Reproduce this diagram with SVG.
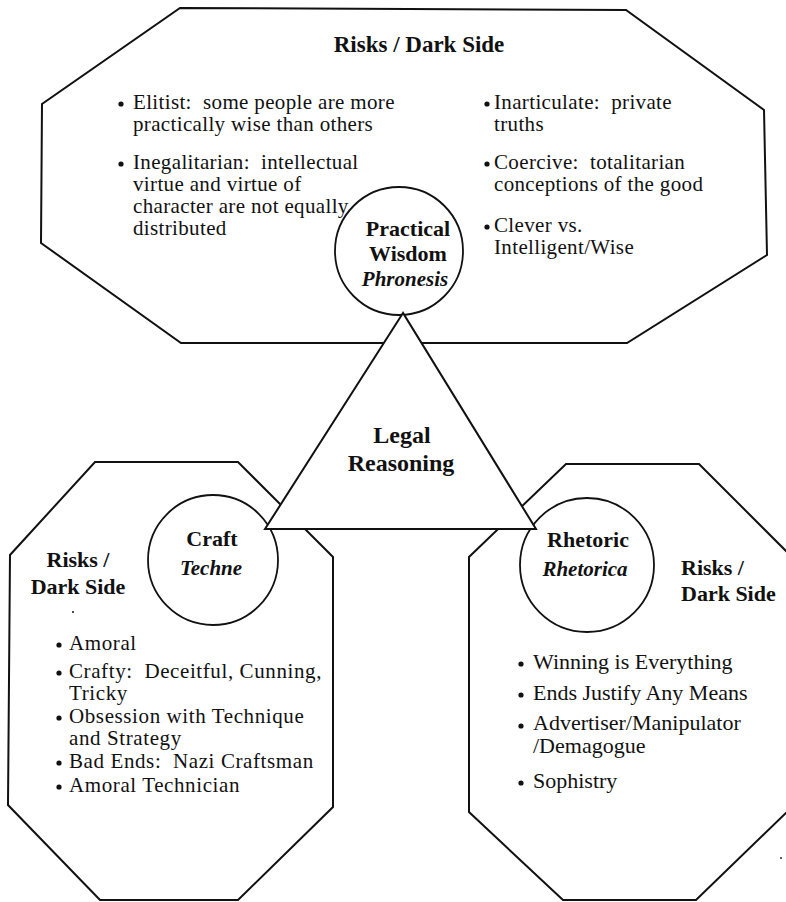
<svg xmlns="http://www.w3.org/2000/svg" width="786" height="902" viewBox="0 0 786 902">
  <style>
    .shape { fill: #fff; stroke: #111; stroke-width: 2; stroke-linejoin: miter; }
    .ring { fill: #fff; stroke: #111; stroke-width: 1.8; }
    .t { font-family: "Liberation Serif", "Times New Roman", serif; fill: #111; }
    .b { font-weight: bold; font-size: 22px; }
    .bi { font-weight: bold; font-style: italic; font-size: 21px; }
    .r { font-size: 22px; }
    .s { font-size: 21px; letter-spacing: 0.6px; }
    .w { font-size: 21px; letter-spacing: 0.35px; }
    .mid { text-anchor: middle; }
    .dot { fill: #111; }
  </style>
  <rect width="786" height="902" fill="#fff"/>

  <!-- Practical wisdom: risks octagon -->
  <g id="phronesis-risks">
    <polygon class="shape" points="180,8 626,10 764,110 767,255 627,343 181,343 41,243 42,104"/>
    <text class="t b mid" x="419" y="52" style="font-size:23px">Risks / Dark Side</text>
    <g class="t w">
      <circle class="dot" cx="121" cy="104" r="2.6"/>
      <text x="133" y="109">Elitist: &#160;some people are more</text>
      <text x="133" y="131">practically wise than others</text>
      <circle class="dot" cx="121" cy="164" r="2.6"/>
      <text x="133" y="169">Inegalitarian: &#160;intellectual</text>
      <text x="133" y="191">virtue and virtue of</text>
      <text x="133" y="213">character are not equally</text>
      <text x="133" y="235">distributed</text>
      <circle class="dot" cx="487" cy="104" r="2.6"/>
      <text x="494" y="109">Inarticulate: &#160;private</text>
      <text x="494" y="131">truths</text>
      <circle class="dot" cx="487" cy="164" r="2.6"/>
      <text x="494" y="169">Coercive: &#160;totalitarian</text>
      <text x="494" y="191">conceptions of the good</text>
      <circle class="dot" cx="487" cy="227" r="2.6"/>
      <text x="494" y="232">Clever vs.</text>
      <text x="494" y="254">Intelligent/Wise</text>
    </g>
  </g>

  <!-- Craft: risks octagon -->
  <g id="techne-risks">
    <polygon class="shape" points="95,462 238,462 333,557 333,807 238,900 100,900 8,805 10,555"/>
    <text class="t b mid" x="78" y="567">Risks /</text>
    <text class="t b mid" x="78" y="594">Dark Side</text>
    <circle class="dot" cx="73" cy="612" r="1"/>
    <g class="t s">
      <circle class="dot" cx="59" cy="645" r="2.6"/>
      <text x="69" y="650">Amoral</text>
      <circle class="dot" cx="59" cy="673" r="2.6"/>
      <text x="69" y="678">Crafty: &#160;Deceitful, Cunning,</text>
      <text x="69" y="700">Tricky</text>
      <circle class="dot" cx="59" cy="718" r="2.6"/>
      <text x="69" y="723">Obsession with Technique</text>
      <text x="69" y="745">and Strategy</text>
      <circle class="dot" cx="59" cy="763" r="2.6"/>
      <text x="69" y="768">Bad Ends: &#160;Nazi Craftsman</text>
      <circle class="dot" cx="59" cy="787" r="2.6"/>
      <text x="69" y="792">Amoral Technician</text>
    </g>
  </g>

  <!-- Rhetoric: risks octagon -->
  <g id="rhetorica-risks">
    <polygon class="shape" points="566,464 699,464 792,557 792,807 696,900 563,900 469,812 469,557"/>
    <text class="t b" x="681" y="575">Risks /</text>
    <text class="t b" x="681" y="601">Dark Side</text>
    <circle class="dot" cx="781" cy="858" r="0.9"/>
    <g class="t r">
      <circle class="dot" cx="521" cy="664" r="2.6"/>
      <text x="533" y="669">Winning is Everything</text>
      <circle class="dot" cx="521" cy="695" r="2.6"/>
      <text x="533" y="700">Ends Justify Any Means</text>
      <circle class="dot" cx="521" cy="726" r="2.6"/>
      <text x="533" y="730">Advertiser/Manipulator</text>
      <text x="533" y="753">/Demagogue</text>
      <circle class="dot" cx="521" cy="783" r="2.6"/>
      <text x="533" y="788">Sophistry</text>
    </g>
  </g>

  <!-- Virtue circles -->
  <g id="practical-wisdom">
    <circle class="ring" cx="399" cy="251" r="64"/>
    <text class="t b mid" x="408" y="236">Practical</text>
    <text class="t b mid" x="408" y="261">Wisdom</text>
    <text class="t bi mid" x="405" y="286">Phronesis</text>
  </g>
  <g id="craft">
    <circle class="ring" cx="213" cy="560" r="65"/>
    <text class="t b mid" x="212" y="546">Craft</text>
    <text class="t bi mid" x="211" y="575">Techne</text>
  </g>
  <g id="rhetoric">
    <circle class="ring" cx="587" cy="565" r="67"/>
    <text class="t b mid" x="588" y="547">Rhetoric</text>
    <text class="t bi mid" x="585" y="576">Rhetorica</text>
  </g>

  <!-- Central triangle -->
  <g id="legal-reasoning">
    <polygon class="shape" points="403,313 265,529 536,529"/>
    <text class="t b mid" x="402" y="443" style="font-size:24px">Legal</text>
    <text class="t b mid" x="401" y="471" style="font-size:24px">Reasoning</text>
  </g>

  <g id="connectors"/>
</svg>
